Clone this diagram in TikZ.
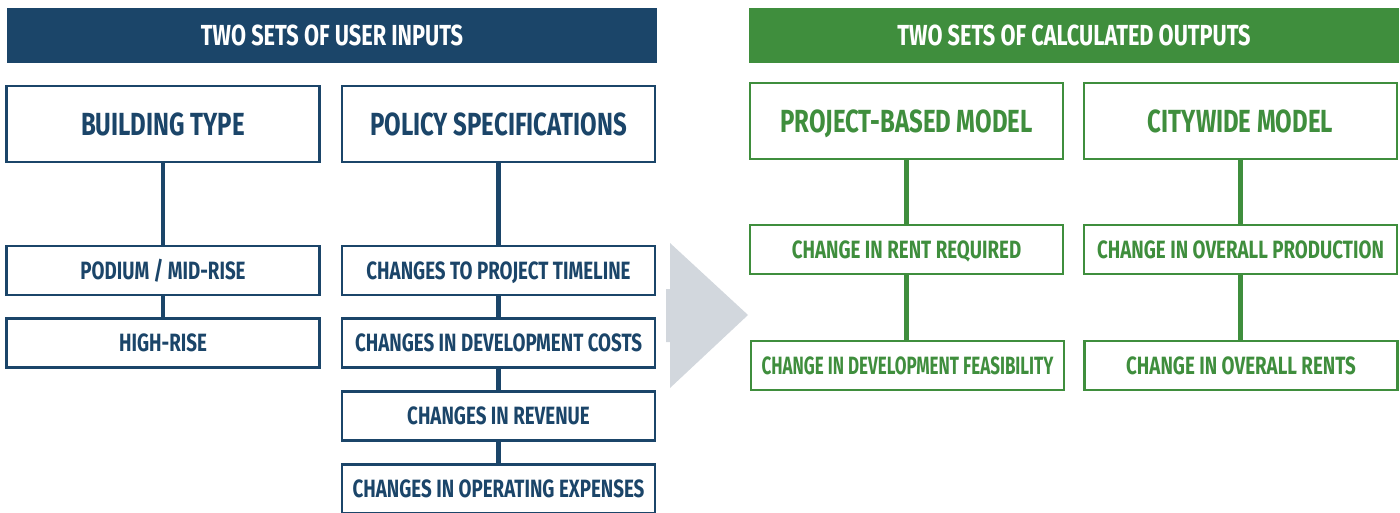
\documentclass[tikz,border=0pt]{standalone}
\usepackage{fontspec}
\setmainfont{Fira Sans}[FakeStretch=0.75]
\newfontfamily\narrowfont{Fira Sans}[FakeStretch=0.68]
\definecolor{inblue}{HTML}{1B4569}
\definecolor{outgreen}{HTML}{3F8E3D}
\definecolor{arrowgrey}{HTML}{D2D7DD}
\begin{document}
\begin{tikzpicture}[x=1pt,y=-1pt,
        head/.style = {minimum width=650pt, minimum height=55pt, inner sep=0pt,
                       text height=20pt, text depth=0pt,
                       text=white, font=\fontsize{29}{30}\selectfont\bfseries},
        bigbox/.style = {draw, line width=2.6pt, fill=white, minimum width=313pt,
                       minimum height=76pt, inner sep=0pt, text height=22pt, text depth=0pt,
                       font=\fontsize{32}{33}\selectfont\bfseries},
        smallbox/.style = {draw, line width=2.6pt, fill=white, minimum width=313pt,
                       minimum height=49pt, inner sep=0pt, text height=17pt, text depth=0pt,
                       font=\fontsize{25}{26}\selectfont\bfseries},
        link/.style = {line width=4.5pt}]
    \useasboundingbox (0,0) rectangle (1400,512);

    % headers
    \node[head, fill=inblue]   (hin)  at (332,35)  {TWO SETS OF USER INPUTS};
    \node[head, fill=outgreen] (hout) at (1074,35) {TWO SETS OF CALCULATED OUTPUTS};

    % the big grey arrow in the middle
    \fill[arrowgrey] (666,289) -- (670,289) -- (670,243) -- (748,315)
        -- (670,388) -- (670,342) -- (666,342) -- cycle;

    % user inputs
    \begin{scope}[draw=inblue, text=inblue, color=inblue]
        \node[bigbox]   (bt)  at (163,124)   {BUILDING TYPE};
        \node[bigbox]   (ps)  at (498.5,124) {POLICY SPECIFICATIONS};
        \node[smallbox] (pod) at (163,270.5) {PODIUM / MID-RISE};
        \node[smallbox] (hr)  at (163,343)   {HIGH-RISE};
        \node[smallbox] (tl)  at (498.5,270.5) {CHANGES TO PROJECT TIMELINE};
        \node[smallbox] (dc)  at (498.5,343)   {CHANGES IN DEVELOPMENT COSTS};
        \node[smallbox] (rev) at (498.5,416)   {CHANGES IN REVENUE};
        \node[smallbox] (opx) at (498.5,489)   {CHANGES IN OPERATING EXPENSES};
        \draw[link] (bt) -- (pod) (pod) -- (hr);
        \draw[link] (ps) -- (tl) (tl) -- (dc) (dc) -- (rev) (rev) -- (opx);
    \end{scope}

    % calculated outputs
    \begin{scope}[draw=outgreen, text=outgreen, color=outgreen]
        \node[bigbox]   (pbm) at (906.5,121)    {PROJECT-BASED MODEL};
        \node[bigbox]   (cw)  at (1240.5,121)   {CITYWIDE MODEL};
        \node[smallbox] (rr)  at (906.5,249.5)  {CHANGE IN RENT REQUIRED};
        \node[smallbox] (prd) at (1240.5,249.5) {CHANGE IN OVERALL PRODUCTION};
        \node[smallbox] (df)  at (907.5,365.5)
            {\narrowfont\bfseries CHANGE IN DEVELOPMENT FEASIBILITY};
        \node[smallbox] (ors) at (1241,365.5)   {CHANGE IN OVERALL RENTS};
        \draw[link] (pbm) -- (rr) (rr) -- (pbm |- df.north);
        \draw[link] (cw) -- (prd) (prd) -- (cw |- ors.north);
    \end{scope}
\end{tikzpicture}
\end{document}
